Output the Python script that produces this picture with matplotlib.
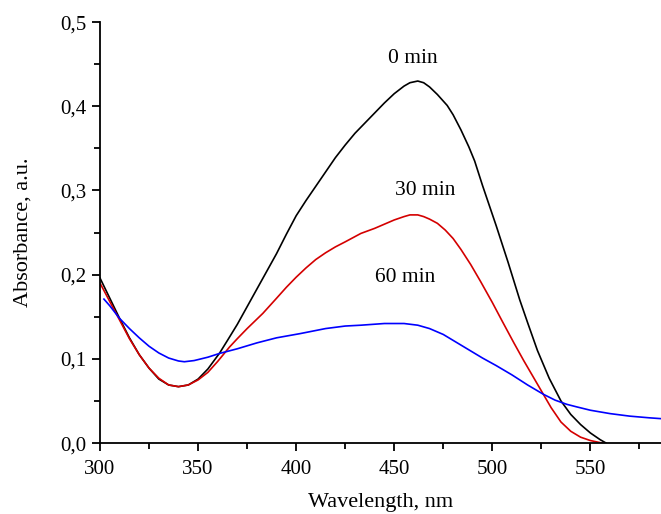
import numpy as np
import matplotlib.pyplot as plt
from matplotlib.ticker import MultipleLocator, FuncFormatter

plt.rcParams['font.family'] = ['Liberation Serif', 'DejaVu Serif']

# 0 min (black)
wl_0 = [300, 305, 310, 315, 320, 325, 330, 335, 340, 345, 350, 355, 361, 365, 370,
        375, 380, 385, 390, 395, 400, 405, 410, 415, 420, 425, 430, 435, 440, 445,
        450, 455, 458, 462, 465, 468, 472, 477, 480, 484, 488, 491, 495, 502, 508,
        514, 518, 523, 529, 535, 540, 545, 550, 555, 558]
abs_0 = [0.196, 0.172, 0.148, 0.125, 0.105, 0.089, 0.076, 0.069, 0.067, 0.069, 0.076,
         0.088, 0.107, 0.122, 0.141, 0.162, 0.183, 0.204, 0.225, 0.248, 0.270, 0.288,
         0.305, 0.322, 0.339, 0.354, 0.368, 0.380, 0.392, 0.404, 0.415, 0.424, 0.428,
         0.430, 0.428, 0.423, 0.414, 0.401, 0.390, 0.372, 0.352, 0.335, 0.306, 0.258,
         0.215, 0.170, 0.143, 0.110, 0.077, 0.050, 0.034, 0.022, 0.012, 0.004, 0.0]

# 30 min (red)
wl_30 = [300, 305, 310, 315, 320, 325, 330, 335, 340, 345, 350, 355, 360, 366, 370,
         375, 383, 390, 395, 400, 405, 410, 415, 420, 425, 433, 440, 445, 450, 455,
         458, 462, 465, 468, 472, 476, 480, 484, 489, 494, 500, 505, 511, 516, 521,
         526, 530, 535, 540, 545, 550, 556]
abs_30 = [0.190, 0.168, 0.146, 0.124, 0.105, 0.089, 0.077, 0.069, 0.067, 0.069, 0.075,
          0.084, 0.097, 0.114, 0.124, 0.136, 0.154, 0.172, 0.185, 0.197, 0.208, 0.218,
          0.226, 0.233, 0.239, 0.249, 0.255, 0.260, 0.265, 0.269, 0.271, 0.271, 0.269,
          0.266, 0.261, 0.253, 0.243, 0.230, 0.212, 0.192, 0.167, 0.145, 0.119, 0.098,
          0.078, 0.058, 0.042, 0.025, 0.014, 0.007, 0.003, 0.0]

# 60 min (blue)
wl_60 = [302, 305, 310, 315, 320, 325, 330, 335, 340, 343, 348, 355, 361, 370, 380,
         390, 402, 415, 425, 433, 445, 455, 462, 468, 475, 480, 485, 490, 495, 502,
         510, 518, 526, 532, 538, 543, 550, 560, 570, 580, 586]
abs_60 = [0.171, 0.163, 0.148, 0.136, 0.125, 0.115, 0.107, 0.101, 0.0975, 0.0966,
          0.098, 0.102, 0.1065, 0.112, 0.119, 0.125, 0.130, 0.136, 0.139, 0.140, 0.142,
          0.142, 0.140, 0.136, 0.129, 0.122, 0.115, 0.108, 0.101, 0.092, 0.081, 0.069,
          0.058, 0.051, 0.046, 0.043, 0.039, 0.035, 0.032, 0.030, 0.029]

fig = plt.figure(figsize=(6.61, 5.14), dpi=100)
ax = fig.add_axes([0.1513, 0.138, 0.8487, 0.819])

ax.plot(wl_0, abs_0, color='black', lw=1.2)
ax.plot(wl_30, abs_30, color='#d40000', lw=1.2)
ax.plot(wl_60, abs_60, color='#0000ff', lw=1.2)

ax.text(459.7, 0.457, '0 min', fontsize=15.5, ha='center', va='center')
ax.text(465.8, 0.300, '30 min', fontsize=15.5, ha='center', va='center')
ax.text(455.6, 0.197, '60 min', fontsize=15.5, ha='center', va='center')

ax.set_xlim(300, 586)
ax.set_ylim(0, 0.5)
ax.xaxis.set_major_locator(MultipleLocator(50))
ax.xaxis.set_minor_locator(MultipleLocator(25))
ax.yaxis.set_major_locator(MultipleLocator(0.1))
ax.yaxis.set_minor_locator(MultipleLocator(0.05))
ax.yaxis.set_major_formatter(FuncFormatter(lambda v, p: f'{v:.1f}'.replace('.', ',')))

ax.spines['top'].set_visible(False)
ax.spines['right'].set_visible(False)
for s in ['left', 'bottom']:
    ax.spines[s].set_linewidth(1.3)
ax.tick_params(which='major', direction='out', length=6, width=1.3, labelsize=15)
ax.tick_params(axis='x', which='major', pad=6)
ax.tick_params(which='minor', direction='out', length=4, width=1.3)

ax.set_xlabel('Wavelength, nm', fontsize=16, labelpad=10)
ax.set_ylabel('Absorbance, a.u.', fontsize=16, labelpad=20)

fig.savefig('out.png', dpi=100)
